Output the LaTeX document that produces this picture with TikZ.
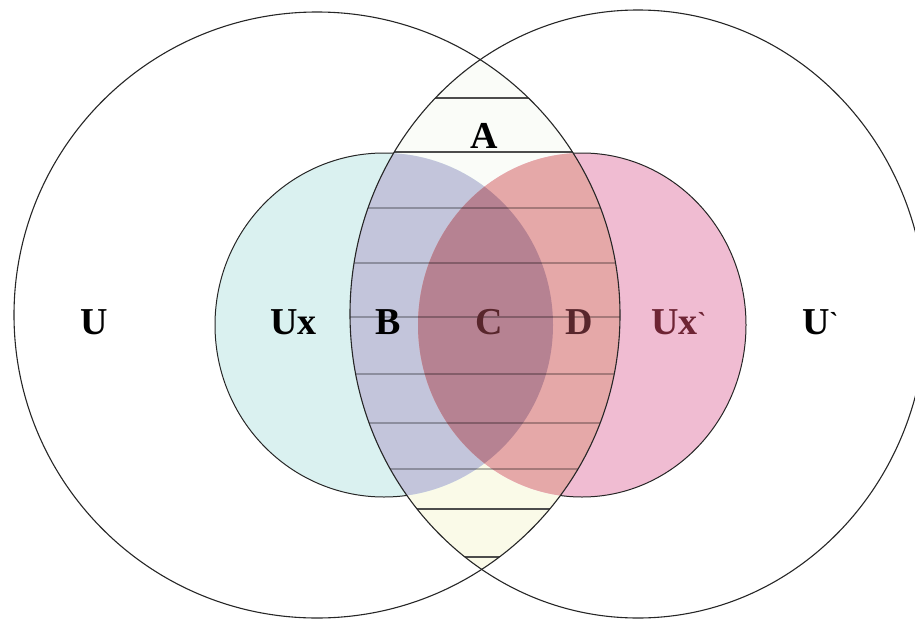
\documentclass[tikz,border=0pt]{standalone}
\usepackage{fontspec}
\setmainfont{Liberation Serif}
\definecolor{cyanfill}{RGB}{218,241,240}
\definecolor{pinkfill}{RGB}{240,188,210}
\definecolor{Bfill}{RGB}{195,197,219}
\definecolor{Cfill}{RGB}{182,130,146}
\definecolor{Dfill}{RGB}{229,168,168}
\definecolor{lenslow}{RGB}{250,250,232}
\definecolor{lenstop}{RGB}{250,252,248}
\definecolor{labbrown}{RGB}{88,38,44}
\definecolor{labmaroon}{RGB}{110,36,52}
\newcommand\pathBigL{(317,315) circle[radius=303]}
\newcommand\pathBigR{(638,314) ellipse[x radius=288,y radius=304]}
\newcommand\pathSmC{(384,325) ellipse[x radius=169,y radius=172]}
\newcommand\pathSmP{(582,325) ellipse[x radius=164,y radius=172]}
\newcommand\smallmark{\raisebox{4pt}{\fontsize{26}{26}\selectfont\textasciigrave}}
\tikzset{
  bigline/.style={draw=black!85,line width=1.1pt},
  smline/.style={draw=black!85,line width=1pt},
  hatchsoft/.style={draw=black,opacity=0.28,line width=1.1pt},
  hatchdark/.style={draw=black!70,line width=1.1pt},
  lab/.style={font=\fontsize{38}{38}\selectfont\bfseries,inner sep=0pt}
}
\begin{document}
\begin{tikzpicture}[x=1pt,y=-1pt]
\useasboundingbox (0,0) rectangle (915,621);
% lens fill
\begin{scope}
  \clip \pathBigL;
  \clip \pathBigR;
  \fill[lenstop] (0,0) rectangle (915,330);
  \fill[lenslow] (0,330) rectangle (915,621);
\end{scope}
% small circles
\fill[cyanfill] \pathSmC;
\fill[pinkfill] \pathSmP;
\begin{scope}
  \clip \pathBigR;
  \fill[Bfill] \pathSmC;
\end{scope}
\begin{scope}
  \clip \pathBigL;
  \fill[Dfill] \pathSmP;
\end{scope}
\begin{scope}
  \clip \pathSmC;
  \fill[Cfill] \pathSmP;
\end{scope}
% hatch lines
\begin{scope}
  \clip \pathBigL;
  \clip \pathBigR;
  \foreach \yy in {208,263,317,374,423,469}
    \draw[hatchsoft] (300,\yy) -- (650,\yy);
  \foreach \yy in {98,152,509,557}
    \draw[hatchdark] (300,\yy) -- (650,\yy);
\end{scope}
% outlines
\draw[bigline] \pathBigL;
\draw[bigline] \pathBigR;
\begin{scope}[even odd rule]
  \clip (-20,-20) rectangle (940,640) \pathBigR;
  \draw[smline] \pathSmC;
\end{scope}
\begin{scope}[even odd rule]
  \clip (-20,-20) rectangle (940,640) \pathBigL;
  \draw[smline] \pathSmP;
\end{scope}
% labels
\node[lab] (labU) at (94,322) {U};
\node[lab,anchor=west] (labUx) at (270,322) {Ux};
\node[lab] (labB) at (388,322) {B};
\node[lab,text=labbrown] (labC) at (489,322) {C};
\node[lab,text=labbrown] (labD) at (579,322) {D};
\node[lab,text=labmaroon,anchor=west] (labUxp) at (651,322) {Ux\smallmark};
\node[lab,anchor=west] (labUp) at (802,322) {U\smallmark};
\node[lab] (labA) at (484,136) {A};
\end{tikzpicture}
\end{document}
